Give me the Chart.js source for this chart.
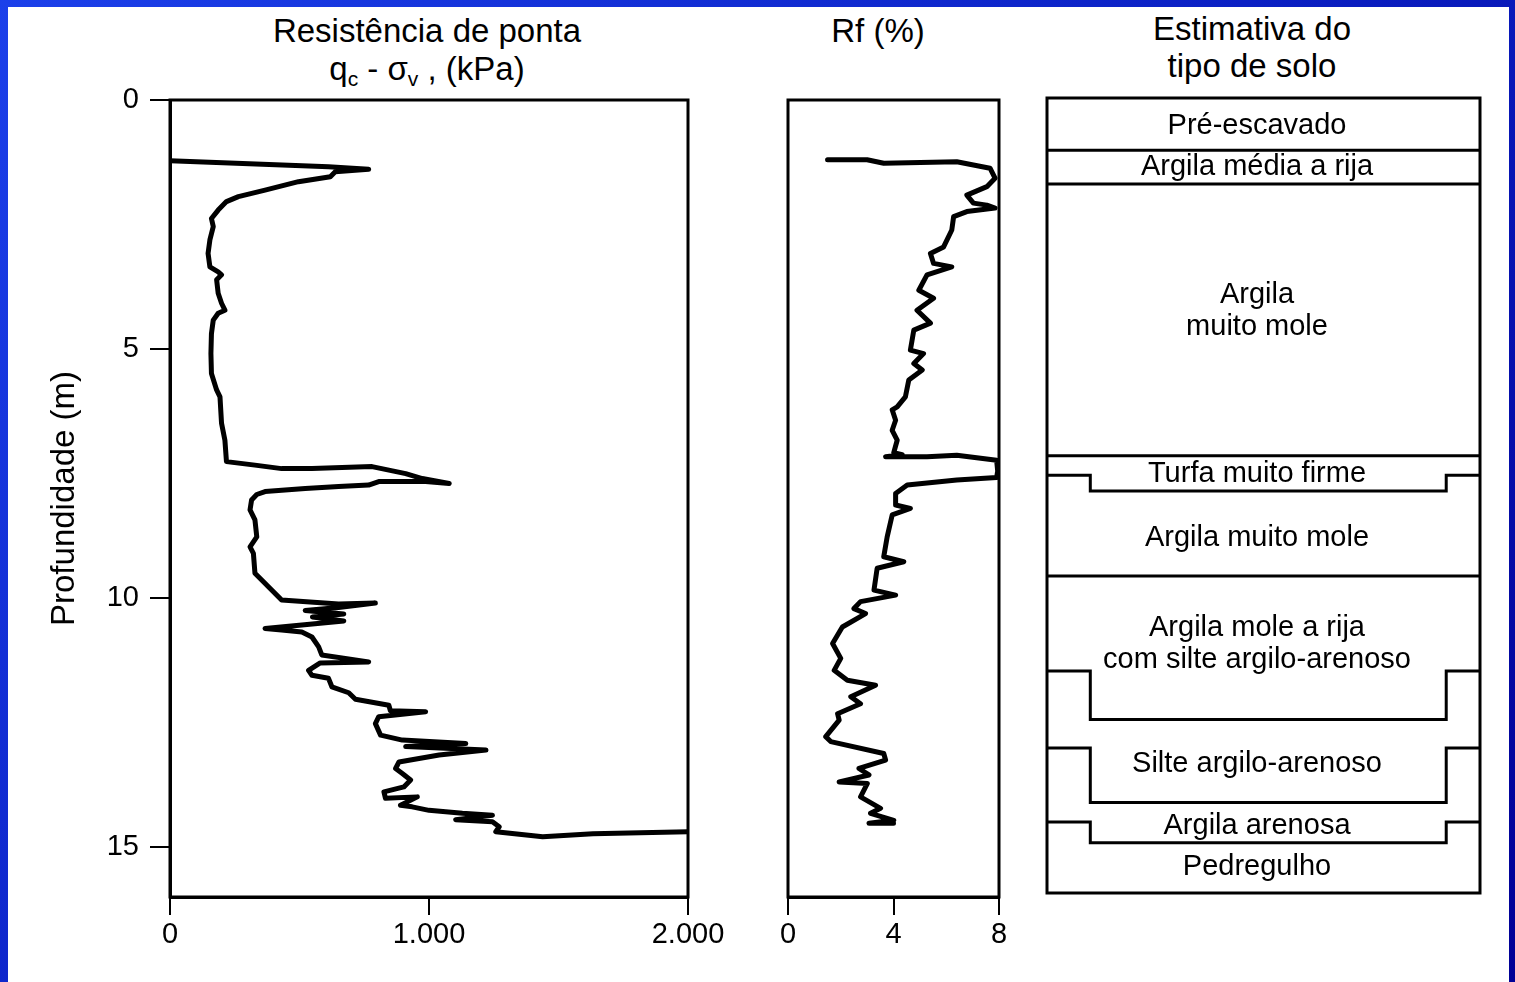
<!DOCTYPE html>
<html lang="pt-BR">
<head>
<meta charset="utf-8">
<title>Perfil de CPT</title>
<script src="https://cdn.jsdelivr.net/npm/chart.js@4.4.1/dist/chart.umd.min.js"></script>
<style>
  html, body { margin: 0; padding: 0; }
  body {
    width: 1515px; height: 982px; overflow: hidden; position: relative;
    background: linear-gradient(135deg, #1c40ea 0%, #0b20c4 50%, #000096 100%);
    font-family: 'Liberation Sans', Arial, sans-serif;
  }
  #page { position: absolute; left: 8px; top: 7px; right: 6px; bottom: 0; background: #fff; }
  canvas { position: absolute; top: 0; }
  .ttl { position: absolute; text-align: center; font-size: 33px; line-height: 38px; color: #000; white-space: nowrap; }
  .ttl sub { font-size: 21px; vertical-align: -6px; line-height: 0; }
</style>
</head>
<body>
<div id="page"></div>

<div class="ttl" style="left:168px; width:518px; top:12px;">Resistência de ponta<br>q<sub>c</sub> - σ<sub>v</sub> , (kPa)</div>
<div class="ttl" style="left:800px; width:156px; top:12px;">Rf (%)</div>
<div class="ttl" style="left:1130px; width:244px; top:10px; line-height:37px;">Estimativa do<br>tipo de solo</div>

<canvas id="qc" width="730" height="982" style="left:0"></canvas>
<canvas id="rf" width="300" height="982" style="left:730px"></canvas>
<canvas id="solo" width="478" height="982" style="left:1030px"></canvas>

<script>
// resistência de ponta: profundidade (m) e qc - σv (kPa)
const qcDepth = [1.22, 1.34, 1.39, 1.44, 1.54, 1.64, 1.81, 1.94, 2.04, 2.21, 2.38, 2.54, 2.81, 3.08, 3.35, 3.45, 3.51, 3.61, 3.88, 4.08,
  4.22, 4.28, 4.42, 4.69, 5.09, 5.49, 5.82, 5.96, 6.49, 6.83, 7.26, 7.33, 7.40, 7.40, 7.36, 7.50, 7.60, 7.70, 7.66, 7.66,
  7.73, 7.76, 7.80, 7.86, 7.92, 8.03, 8.23, 8.43, 8.77, 8.97, 9.10, 9.50, 9.77, 10.04, 10.12, 10.10, 10.19, 10.25, 10.32, 10.38,
  10.46, 10.61, 10.64, 10.68, 10.78, 10.98, 11.14, 11.28, 11.30, 11.45, 11.55, 11.61, 11.78, 11.90, 12.03, 12.15, 12.26, 12.28, 12.38, 12.52,
  12.75, 12.85, 12.92, 12.98, 13.05, 13.15, 13.29, 13.42, 13.52, 13.65, 13.79, 13.89, 14.02, 13.99, 14.16, 14.19, 14.26, 14.32, 14.36, 14.45,
  14.49, 14.59, 14.69, 14.79, 14.73, 14.69];
const qcValue = [0, 612, 767, 638, 619, 496, 367, 264, 218, 186, 160, 167, 154, 147, 154, 186, 199, 180, 186, 199,
  212, 186, 167, 160, 158, 160, 180, 193, 199, 212, 218, 328, 431, 548, 780, 910, 974, 1078, 987, 806,
  767, 651, 522, 367, 335, 315, 309, 328, 335, 309, 322, 328, 380, 431, 651, 793, 651, 522, 671, 550,
  671, 367, 431, 509, 548, 574, 586, 767, 580, 535, 548, 612, 625, 690, 716, 845, 851, 987, 806, 793,
  813, 897, 1142, 910, 1220, 1039, 884, 871, 897, 929, 903, 826, 832, 955, 890, 935, 1000, 1129, 1245, 1103,
  1245, 1271, 1258, 1439, 1633, 2000];

// razão de atrito: profundidade (m) e Rf (%)
const rfDepth = [1.20, 1.20, 1.27, 1.24, 1.37, 1.57, 1.74, 1.91, 2.07, 2.11, 2.17, 2.24, 2.34, 2.61, 2.95, 3.08, 3.28, 3.35, 3.51, 3.82,
  3.98, 4.22, 4.48, 4.62, 5.02, 5.09, 5.29, 5.42, 5.62, 5.96, 6.16, 6.22, 6.43, 6.63, 6.83, 7.08, 7.12, 7.16, 7.16, 7.13,
  7.23, 7.45, 7.58, 7.63, 7.73, 7.90, 8.13, 8.20, 8.33, 8.77, 9.17, 9.27, 9.40, 9.84, 9.94, 10.07, 10.21, 10.31, 10.58, 10.91,
  11.21, 11.45, 11.65, 11.75, 11.98, 12.12, 12.32, 12.45, 12.78, 12.88, 13.12, 13.25, 13.42, 13.55, 13.69, 13.72, 13.99, 14.22, 14.32, 14.46,
  14.52, 14.52];
const rfValue = [1.5, 3.0, 3.63, 6.4, 7.66, 7.85, 7.54, 6.78, 7.03, 7.54, 7.85, 6.78, 6.28, 6.21, 5.9, 5.4, 5.52, 6.21, 5.27, 4.96,
  5.52, 4.89, 5.4, 4.77, 4.64, 5.14, 4.77, 5.09, 4.58, 4.45, 4.14, 3.95, 4.08, 3.95, 4.14, 4.01, 4.33, 3.7, 5.27, 6.4,
  7.91, 7.95, 7.91, 6.4, 4.52, 4.08, 4.08, 4.64, 3.95, 3.76, 3.63, 4.39, 3.38, 3.26, 4.08, 2.75, 2.5, 2.94, 2.06, 1.69,
  2.0, 1.75, 2.25, 3.32, 2.38, 2.75, 1.88, 1.94, 1.43, 1.62, 3.63, 3.7, 2.69, 3.07, 1.94, 3.01, 2.75, 3.51, 3.13, 4.01,
  3.07, 4.0];

const depthTicks = [0, 5, 10, 15];
const qcTicks = [0, 1000, 2000];
const qcTickLabels = ['0', '1.000', '2.000'];
const rfTicks = [0, 4, 8];
const rfTickLabels = ['0', '4', '8'];

// fronteiras entre camadas (m): nas bordas da coluna e no centro
const layerEdgeDepth = [1.05, 1.73, 7.20, 7.59, 9.62, 11.53, 13.08, 14.57];
const layerCenterDepth = [1.05, 1.73, 7.20, 7.91, 9.62, 12.51, 14.18, 14.99];
const soilNames = ['Pré-escavado', 'Argila média a rija', 'Argila\nmuito mole', 'Turfa muito firme', 'Argila muito mole',
  'Argila mole a rija\ncom silte argilo-arenoso', 'Silte argilo-arenoso', 'Argila arenosa', 'Pedregulho'];
const soilLabelDepth = [0.56, 1.39, 4.29, 7.57, 8.85, 10.99, 13.40, 14.65, 15.47];

const FONT = "'Liberation Sans', Arial, sans-serif";
const STEP_LEFT = 0.1, STEP_RIGHT = 0.922, LABEL_X = 0.485;

Chart.defaults.font.family = FONT;
Chart.defaults.color = '#000';
Chart.defaults.animation = false;

// moldura preta em volta da área do gráfico
const frame = {
  id: 'frame',
  afterDraw(chart) {
    const { ctx, chartArea: a } = chart;
    ctx.save();
    ctx.strokeStyle = '#000';
    ctx.lineWidth = 3;
    ctx.strokeRect(a.left, a.top, a.right - a.left, a.bottom - a.top);
    ctx.restore();
  }
};

const soilLabels = {
  id: 'soilLabels',
  afterDatasetsDraw(chart) {
    const { ctx, scales: { x, y } } = chart;
    ctx.save();
    ctx.font = '29px ' + FONT;
    ctx.fillStyle = '#000';
    ctx.textAlign = 'center';
    ctx.textBaseline = 'middle';
    soilNames.forEach((name, i) => {
      const lines = name.split('\n');
      const cy = y.getPixelForValue(soilLabelDepth[i]);
      lines.forEach((ln, j) => {
        ctx.fillText(ln, x.getPixelForValue(LABEL_X), cy + (j - (lines.length - 1) / 2) * 32);
      });
    });
    ctx.restore();
  }
};

const profile = (depth, values) => ({
  data: depth.map((d, i) => ({ x: values[i], y: d })),
  showLine: true,
  borderColor: '#000',
  borderWidth: 5,
  pointRadius: 0,
  borderJoinStyle: 'round',
  borderCapStyle: 'round'
});

const depthAxis = (showLabels) => ({
  type: 'linear',
  reverse: true,
  min: 0,
  max: 16,
  display: showLabels,
  afterBuildTicks: s => { s.ticks = depthTicks.map(v => ({ value: v })); },
  afterFit: s => { if (showLabels) s.width = 125; },
  ticks: { font: { size: 29 }, padding: 11 },
  grid: { drawOnChartArea: false, tickLength: 20, color: '#000', lineWidth: 2 },
  border: { color: '#000', width: 3 },
  title: { display: true, text: 'Profundidade (m)', font: { size: 33 }, padding: 0 }
});

const bottomAxis = (max, ticks, labels) => ({
  type: 'linear',
  min: 0,
  max: max,
  afterBuildTicks: s => { s.ticks = ticks.map(v => ({ value: v })); },
  afterFit: s => { s.height = 60; },
  ticks: { font: { size: 29 }, padding: 3, maxRotation: 0, callback: v => labels[ticks.indexOf(v)] },
  grid: { drawOnChartArea: false, tickLength: 18, color: '#000', lineWidth: 2 },
  border: { color: '#000', width: 3 }
});

new Chart(document.getElementById('qc'), {
  type: 'scatter',
  data: { datasets: [profile(qcDepth, qcValue)] },
  options: {
    responsive: false,
    layout: { padding: { left: 45, right: 42, top: 100, bottom: 25 } },
    plugins: { legend: { display: false }, tooltip: { enabled: false } },
    scales: {
      x: bottomAxis(2000, qcTicks, qcTickLabels),
      y: depthAxis(true)
    }
  },
  plugins: [frame]
});

new Chart(document.getElementById('rf'), {
  type: 'scatter',
  data: { datasets: [profile(rfDepth, rfValue)] },
  options: {
    responsive: false,
    layout: { padding: { left: 58, right: 31, top: 100, bottom: 25 } },
    plugins: { legend: { display: false }, tooltip: { enabled: false } },
    scales: {
      x: bottomAxis(8, rfTicks, rfTickLabels),
      y: depthAxis(false)
    }
  },
  plugins: [frame]
});

new Chart(document.getElementById('solo'), {
  type: 'scatter',
  data: {
    datasets: layerEdgeDepth.map((e, i) => {
      const c = layerCenterDepth[i];
      return {
        data: [{ x: 0, y: e }, { x: STEP_LEFT, y: e }, { x: STEP_LEFT, y: c }, { x: STEP_RIGHT, y: c }, { x: STEP_RIGHT, y: e }, { x: 1, y: e }],
        showLine: true,
        borderColor: '#000',
        borderWidth: 3,
        pointRadius: 0
      };
    })
  },
  options: {
    responsive: false,
    layout: { padding: { left: 17, right: 28, top: 98, bottom: 89 } },
    plugins: { legend: { display: false }, tooltip: { enabled: false } },
    scales: {
      x: { type: 'linear', min: 0, max: 1, display: false },
      y: { type: 'linear', min: 0, max: 16, reverse: true, display: false }
    }
  },
  plugins: [frame, soilLabels]
});
</script>
</body>
</html>
